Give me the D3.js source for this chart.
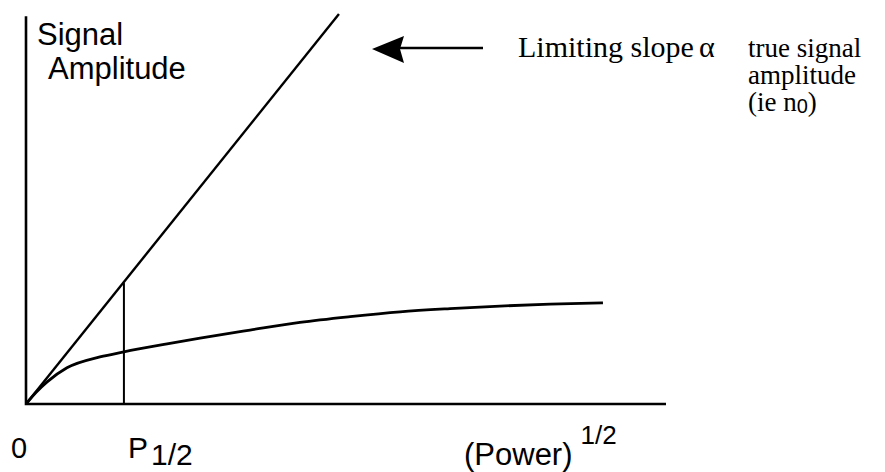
<!DOCTYPE html>
<html>
<head>
<meta charset="utf-8">
<script src="https://cdn.jsdelivr.net/npm/d3@7"></script>
<style>
  body { margin: 0; background: #fff; }
  svg { display: block; }
  .sans { font-family: "Liberation Sans", Arial, sans-serif; }
  .serif { font-family: "Liberation Serif", "Times New Roman", serif; }
</style>
</head>
<body>
<div class="container"></div>
<script>
// values, in (power)^1/2 units vs signal units
const limitX = [0, 9.78];
const limitY = [0, 12.19];

const signalX = [0, 0.31, 0.66, 1.28, 2.31, 3.06, 4.41, 5.44, 7.0, 8.56, 10.13, 11.69, 13.25, 14.81, 16.38, 18.03];
const signalY = [0, 0.36, 0.69, 1.13, 1.47, 1.63, 1.88, 2.06, 2.31, 2.55, 2.73, 2.88, 2.98, 3.06, 3.12, 3.16];

const halfPower = 3.06;
const halfTop = 3.78;

const axisMaxX = 20;
const axisMaxY = 12.12;

const width = 885, height = 472;

const svg = d3.select("div.container").append("svg")
    .attr("width", width)
    .attr("height", height);

//scales: origin sits at (26,404)
const x = d3.scaleLinear().domain([0, 20]).range([26, 666]);
const y = d3.scaleLinear().domain([0, 12.5]).range([404, 4]);

const line = d3.line().x(d => x(d[0])).y(d => y(d[1]));

//axes as plain lines
svg.append("path")
    .attr("d", line([[0, axisMaxY], [0, 0], [axisMaxX, 0]]))
    .attr("fill", "none")
    .attr("stroke", "#000")
    .attr("stroke-width", 2.6);

//limiting slope line
svg.append("path")
    .attr("d", line(d3.zip(limitX, limitY)))
    .attr("fill", "none")
    .attr("stroke", "#000")
    .attr("stroke-width", 2.4);

//P1/2 marker
svg.append("path")
    .attr("d", line([[halfPower, 0], [halfPower, halfTop]]))
    .attr("fill", "none")
    .attr("stroke", "#000")
    .attr("stroke-width", 2);

//measured signal curve
svg.append("path")
    .attr("d", d3.line().x(d => x(d[0])).y(d => y(d[1]))
        .curve(d3.curveMonotoneX)(d3.zip(signalX, signalY)))
    .attr("fill", "none")
    .attr("stroke", "#000")
    .attr("stroke-width", 2.8);

//arrow pointing at the limiting slope line
svg.append("line")
    .attr("x1", 483).attr("y1", 48)
    .attr("x2", 400).attr("y2", 48)
    .attr("stroke", "#000")
    .attr("stroke-width", 2.6);
svg.append("path")
    .attr("d", "M372,49 L404,36 L400,49 L404,63 Z")
    .attr("fill", "#000");

//y label
svg.append("text").attr("class", "sans")
    .attr("x", 37).attr("y", 45)
    .style("font-size", "31px")
    .text("Signal");
svg.append("text").attr("class", "sans")
    .attr("x", 48).attr("y", 79)
    .style("font-size", "31px")
    .text("Amplitude");

//annotation on the right
const serif = svg.append("g").attr("class", "serif").style("font-size", "27px");
serif.append("text").attr("x", 518).attr("y", 57)
    .style("font-size", "30px")
    .text("Limiting slope");
serif.append("text").attr("x", 699).attr("y", 57).style("font-size", "30px").text("α");
serif.append("text").attr("x", 748).attr("y", 57).text("true signal");
serif.append("text").attr("x", 748).attr("y", 84).text("amplitude");
const ie = serif.append("text").attr("x", 748).attr("y", 111);
ie.append("tspan").text("(ie n");
ie.append("tspan").attr("class", "sans").style("font-size", "20px").attr("dy", 2).text("0");
ie.append("tspan").attr("dy", -2).text(")");

//x labels
svg.append("text").attr("class", "sans")
    .attr("x", 11).attr("y", 458)
    .style("font-size", "29px")
    .text("0");

const p = svg.append("text").attr("class", "sans")
    .attr("x", 128).attr("y", 458)
    .style("font-size", "30px");
p.append("tspan").text("P");
p.append("tspan").attr("dx", 3).attr("dy", 7).text("1/2");

const pw = svg.append("text").attr("class", "sans")
    .attr("x", 464).attr("y", 465)
    .style("font-size", "31px");
pw.append("tspan").text("(Power)");
pw.append("tspan").attr("dx", 8).attr("dy", -21).style("font-size", "26px").text("1/2");
</script>
</body>
</html>
